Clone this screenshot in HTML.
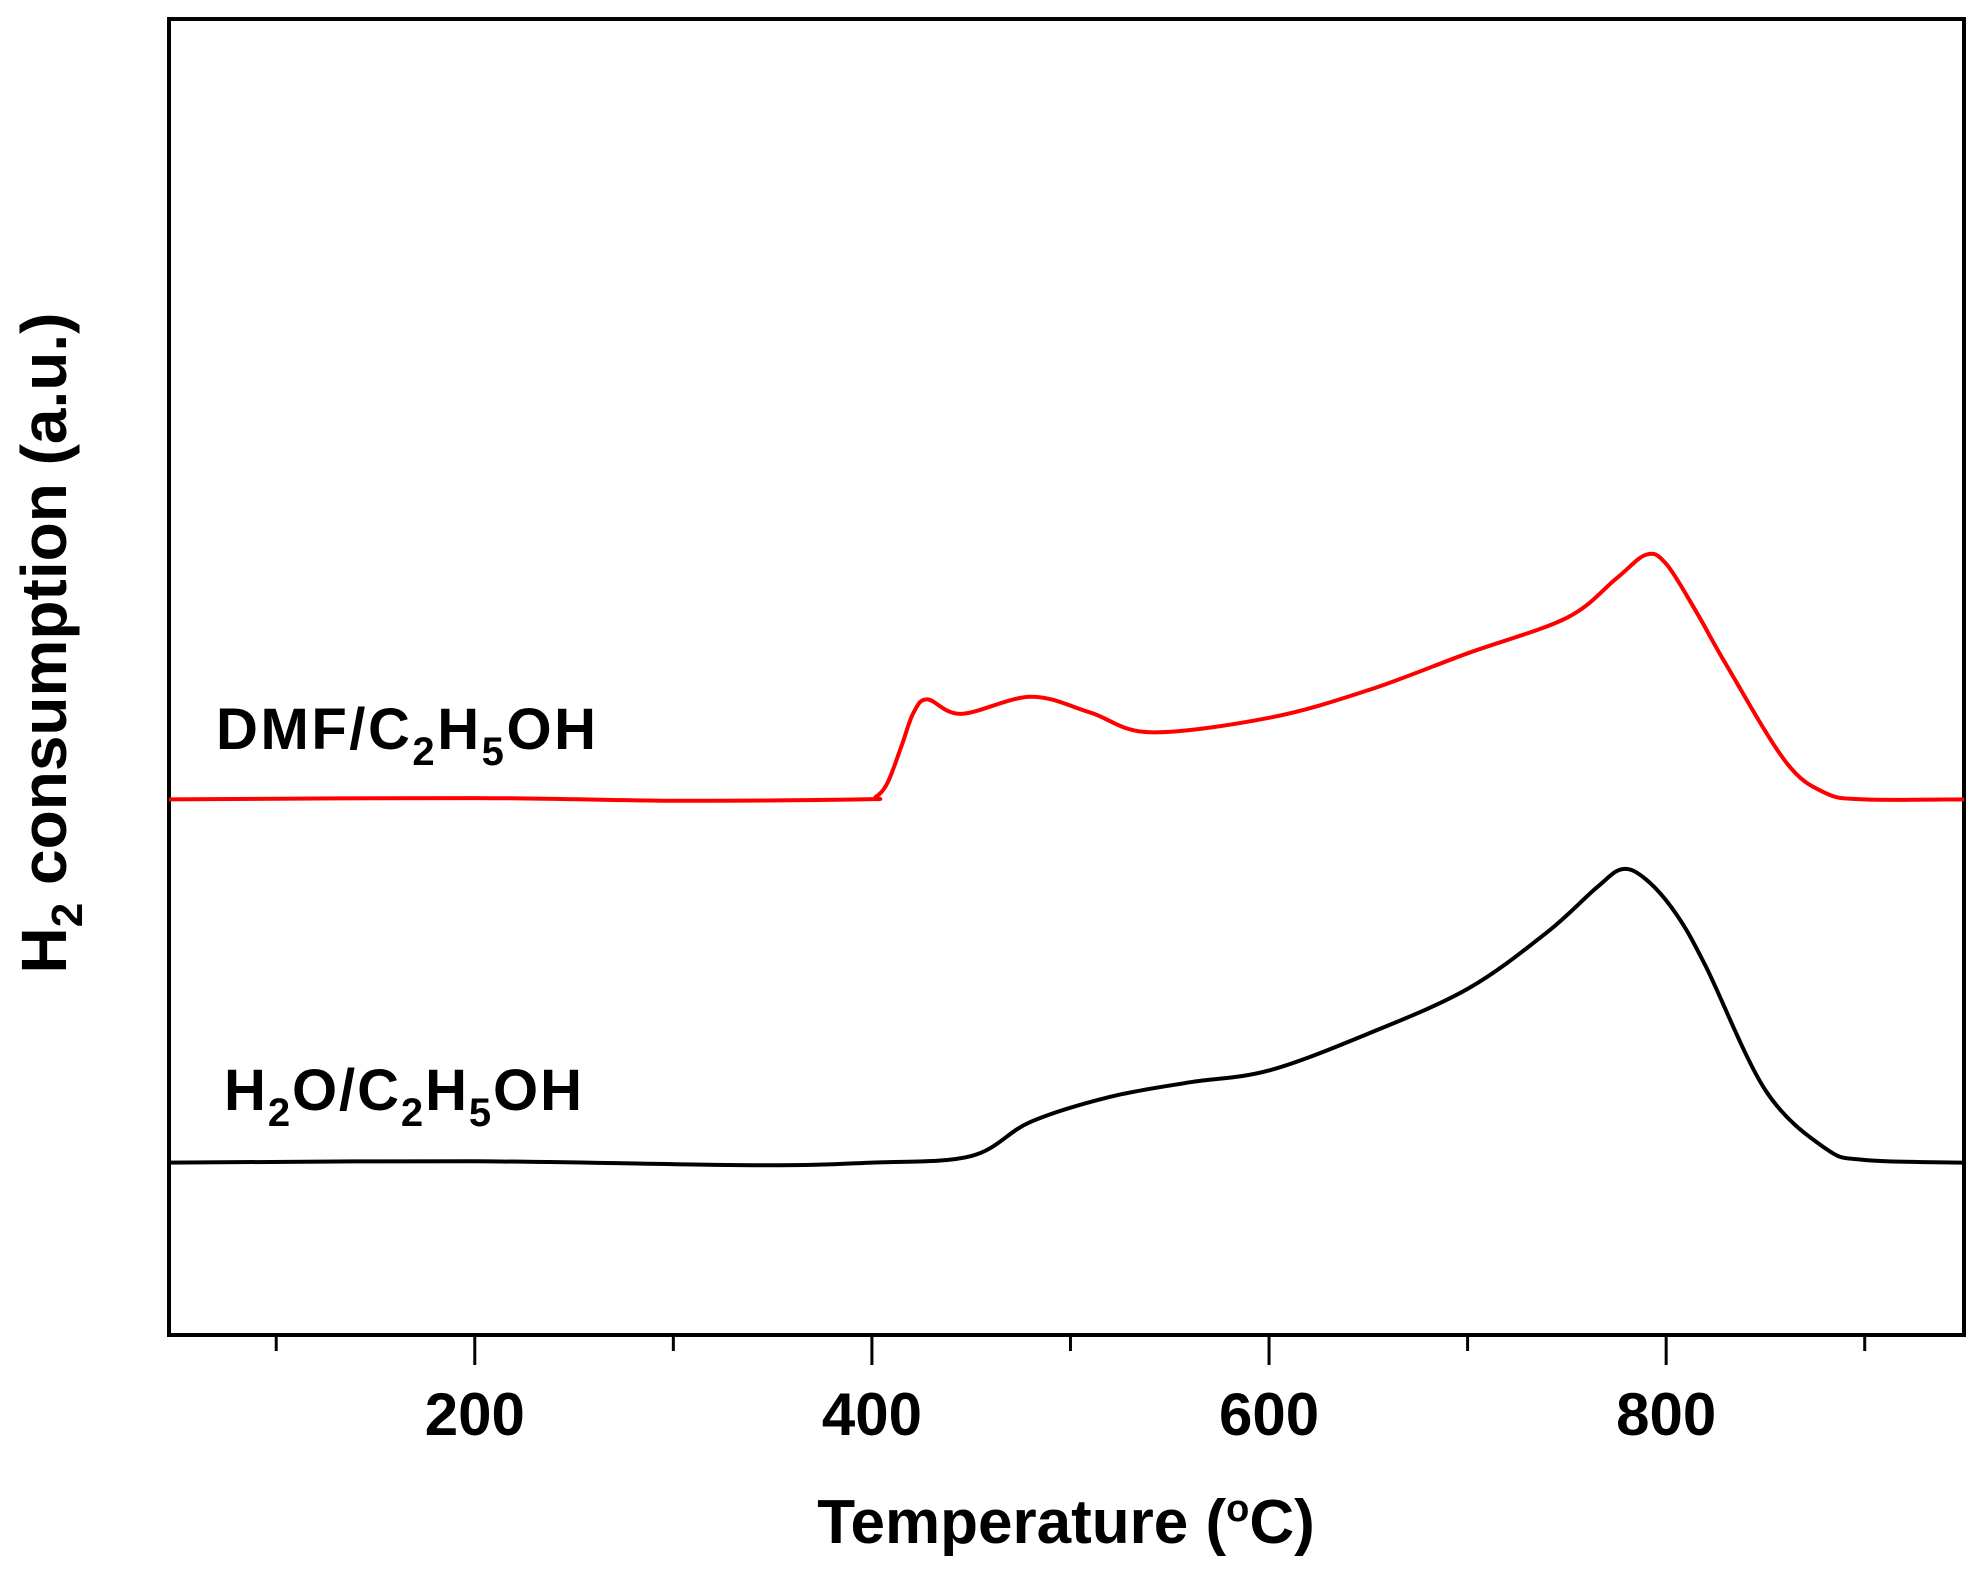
<!DOCTYPE html>
<html><head><meta charset="utf-8"><style>
body{margin:0;background:#fff}
svg{display:block;font-family:"Liberation Sans",Arial,sans-serif;font-weight:bold}
</style></head><body>
<svg id="chart" width="1984" height="1577" viewBox="0 0 1984 1577">
<rect x="169" y="19" width="1795" height="1316" fill="none" stroke="#000" stroke-width="4"/>
<g id="ticks"></g>
<g id="series"></g>
<text x="216" y="749" font-size="58" textLength="380">DMF/C<tspan font-size="40" dy="16">2</tspan><tspan dy="-16">H</tspan><tspan font-size="40" dy="16">5</tspan><tspan dy="-16">OH</tspan></text>
<text x="224" y="1110" font-size="58" textLength="358">H<tspan font-size="40" dy="16">2</tspan><tspan dy="-16">O/C</tspan><tspan font-size="40" dy="16">2</tspan><tspan dy="-16">H</tspan><tspan font-size="40" dy="16">5</tspan><tspan dy="-16">OH</tspan></text>
<text x="1066" y="1543" font-size="62" text-anchor="middle">Temperature (<tspan font-size="38" dy="-22">o</tspan><tspan dy="22">C)</tspan></text>
<text transform="translate(66,643) rotate(-90)" font-size="64" text-anchor="middle">H<tspan font-size="44" dy="16">2</tspan><tspan dy="-16"> consumption (a.u.)</tspan></text>
</svg>
<script>
const xTicks=[200,400,600,800];
const xMinor=[100,300,500,700,900];
const redX=[46,200,300,395,402,408,415,421,428,445,480,510,540,600,650,700,750,775,790,800,815,830,860,880,900,950];
const redY=[40.7,40.8,40.6,40.7,40.9,42.0,44.8,47.3,48.3,47.2,48.5,47.3,45.8,46.9,49.0,51.8,54.5,57.5,59.3,58.6,55.0,51.0,43.6,41.2,40.7,40.7];
const blackX=[46,200,340,400,450,480,520,560,600,650,700,740,765,778,790,805,820,850,880,900,950];
const blackY=[13.1,13.2,12.9,13.1,13.6,16.2,18.1,19.2,20.1,22.9,26.3,30.6,34.0,35.4,34.6,32.0,28.0,18.6,14.2,13.3,13.1];
const L=169,R=1964,T=19,B=1335,xMin=46,xMax=950,yMin=0,yMax=100;
const sx=v=>L+(v-xMin)/(xMax-xMin)*(R-L);
const sy=v=>B-(v-yMin)/(yMax-yMin)*(B-T);
const NS="http://www.w3.org/2000/svg";
const tg=document.getElementById('ticks');
xTicks.forEach(t=>{
 const l=document.createElementNS(NS,'line');
 l.setAttribute('x1',sx(t));l.setAttribute('x2',sx(t));l.setAttribute('y1',B);l.setAttribute('y2',B+30);
 l.setAttribute('stroke','#000');l.setAttribute('stroke-width','3');
 
 
 tg.appendChild(l);
 const tx=document.createElementNS(NS,'text');
 tx.setAttribute('x',sx(t));tx.setAttribute('y',1435);tx.setAttribute('font-size','60');tx.setAttribute('text-anchor','middle');
 tx.textContent=t;
 
 
 tg.appendChild(tx);
});
xMinor.forEach(t=>{
 const l=document.createElementNS(NS,'line');
 l.setAttribute('x1',sx(t));l.setAttribute('x2',sx(t));l.setAttribute('y1',B);l.setAttribute('y2',B+16);
 l.setAttribute('stroke','#000');l.setAttribute('stroke-width','3');
 
 
 tg.appendChild(l);
});
function path(xs,ys){
 const p=xs.map((x,i)=>[sx(x),sy(ys[i])]);
 let d='M'+p[0][0]+','+p[0][1];
 for(let i=0;i<p.length-1;i++){
  const p0=p[Math.max(0,i-1)],p1=p[i],p2=p[i+1],p3=p[Math.min(p.length-1,i+2)];
  const c1=[p1[0]+(p2[0]-p0[0])/6,p1[1]+(p2[1]-p0[1])/6];
  const c2=[p2[0]-(p3[0]-p1[0])/6,p2[1]-(p3[1]-p1[1])/6];
  d+=' C'+c1+' '+c2+' '+p2;
 }
 return d;
}
const sg=document.getElementById('series');
[[redX,redY,'#ff0000','series-dmf'],[blackX,blackY,'#000','series-h2o']].forEach(s=>{
 const e=document.createElementNS(NS,'path');
 e.setAttribute('d',path(s[0],s[1]));e.setAttribute('fill','none');e.setAttribute('stroke',s[2]);e.setAttribute('stroke-width','4');
 
 
 sg.appendChild(e);
});
</script>
</body></html>
